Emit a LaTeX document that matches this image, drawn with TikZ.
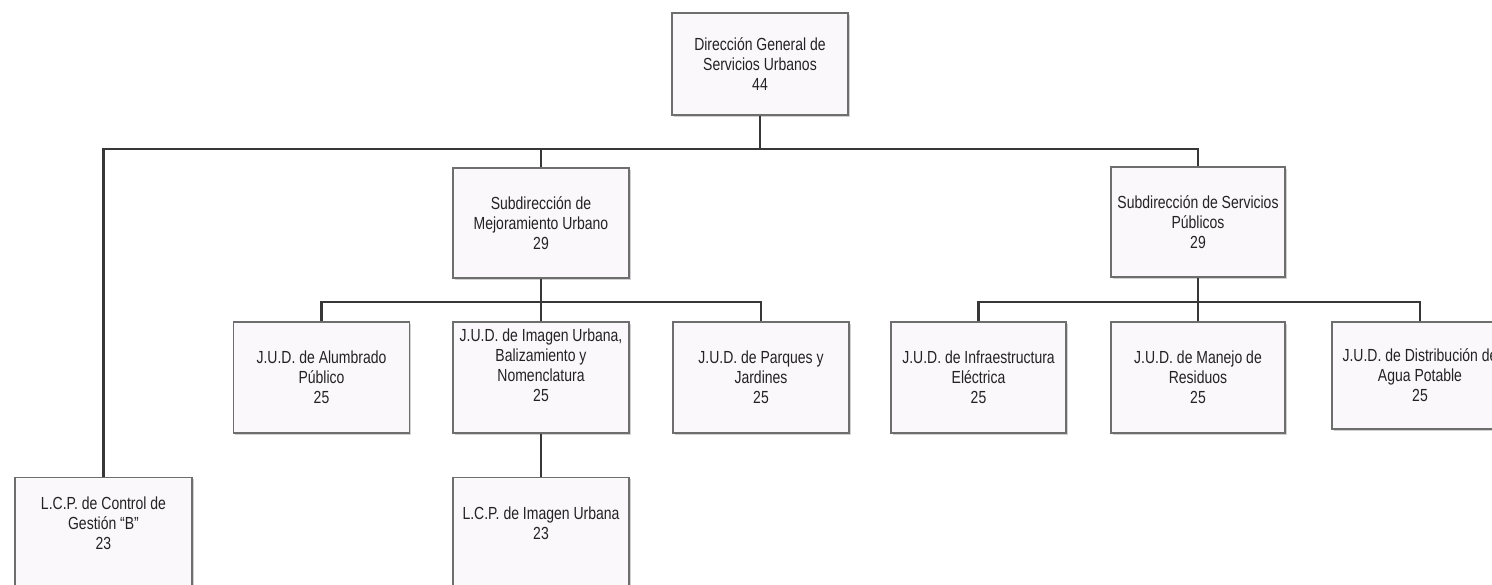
\documentclass[tikz,border=0pt]{standalone}
\usepackage{fontspec}
\setmainfont[FakeStretch=0.8]{Liberation Sans}
\usetikzlibrary{shadows}
\definecolor{boxfill}{RGB}{251,248,251}
\definecolor{boxline}{RGB}{110,110,110}
\definecolor{connline}{RGB}{55,55,55}
\definecolor{txt}{RGB}{35,35,35}
\tikzset{
  orgbox/.style={draw=boxline, line width=1.1pt, fill=boxfill,
    drop shadow={shadow xshift=1.5pt, shadow yshift=-1.5pt, fill=black!18, opacity=1},
    minimum width=176pt, minimum height=111pt, inner sep=0pt,
    align=center, text=txt, font=\fontsize{17.5}{20}\selectfont},
  orgtext/.style={align=center, text=txt, inner sep=0pt, font=\fontsize{17.5}{20}\selectfont},
  conn/.style={draw=connline, line width=2.2pt}
}
\begin{document}
\begin{tikzpicture}[x=1pt,y=-1pt]
\clip (0,0) rectangle (1492,584);
\fill[white] (0,0) rectangle (1492,584);
% level 0
\node[orgbox, minimum height=102pt] (top) at (760,64) {Dirección General de\\Servicios Urbanos\\44};
% level 1
\node[orgbox, minimum height=110pt] (mejor) at (541,223) {Subdirección de\\Mejoramiento Urbano\\29};
\node[orgbox, minimum width=174pt, minimum height=110pt] (serv) at (1198,222) {Subdirección de Servicios\\Públicos\\29};
% level 2
\node[orgbox] (alum) at (321.5,377.5) {J.U.D. de Alumbrado\\Público\\25};
\node[orgbox] (img) at (541,377.5) {J.U.D. de Imagen Urbana,\\Balizamiento y\\Nomenclatura\\25\\[4pt]};
\node[orgbox] (parq) at (761,377.5) {J.U.D. de Parques y\\Jardines\\25};
\node[orgbox, minimum width=175pt] (infra) at (978.5,377.5) {J.U.D. de Infraestructura\\Eléctrica\\25};
\node[orgbox, minimum width=174pt] (manejo) at (1198,377.5) {J.U.D. de Manejo de\\Residuos\\25};
\node[orgbox, minimum height=107pt] (agua) at (1420,375.5) {J.U.D. de Distribución de\\Agua Potable\\25};
% level 3
\node[orgbox, minimum width=177pt, minimum height=150pt, anchor=north] (lcpA) at (103.5,477) {};
\node[orgtext] (lcpAtext) at (103.5,523) {L.C.P. de Control de\\Gestión “B”\\23};
\node[orgbox, minimum height=150pt, anchor=north] (lcpB) at (541,477) {};
\node[orgtext] (lcpBtext) at (541,523) {L.C.P. de Imagen Urbana\\23};
% bus coordinates
\coordinate (bus1) at (0,149);
\coordinate (bus2) at (0,302);
% connectors
\draw[conn] (top.south) -- (top.south |- bus1);
\draw[conn] (lcpA.north) |- (serv.north |- bus1) -- (serv.north);
\draw[conn] (mejor.north) -- (mejor.north |- bus1);
\draw[conn] (mejor.south) -- (mejor.south |- bus2);
\draw[conn] (alum.north) |- (parq.north |- bus2) -- (parq.north);
\draw[conn] (img.north) -- (img.north |- bus2);
\draw[conn] (serv.south) -- (serv.south |- bus2);
\draw[conn] (infra.north) |- (agua.north |- bus2) -- (agua.north);
\draw[conn] (manejo.north) -- (manejo.north |- bus2);
\draw[conn] (img.south) -- (lcpB.north);
\end{tikzpicture}
\end{document}
